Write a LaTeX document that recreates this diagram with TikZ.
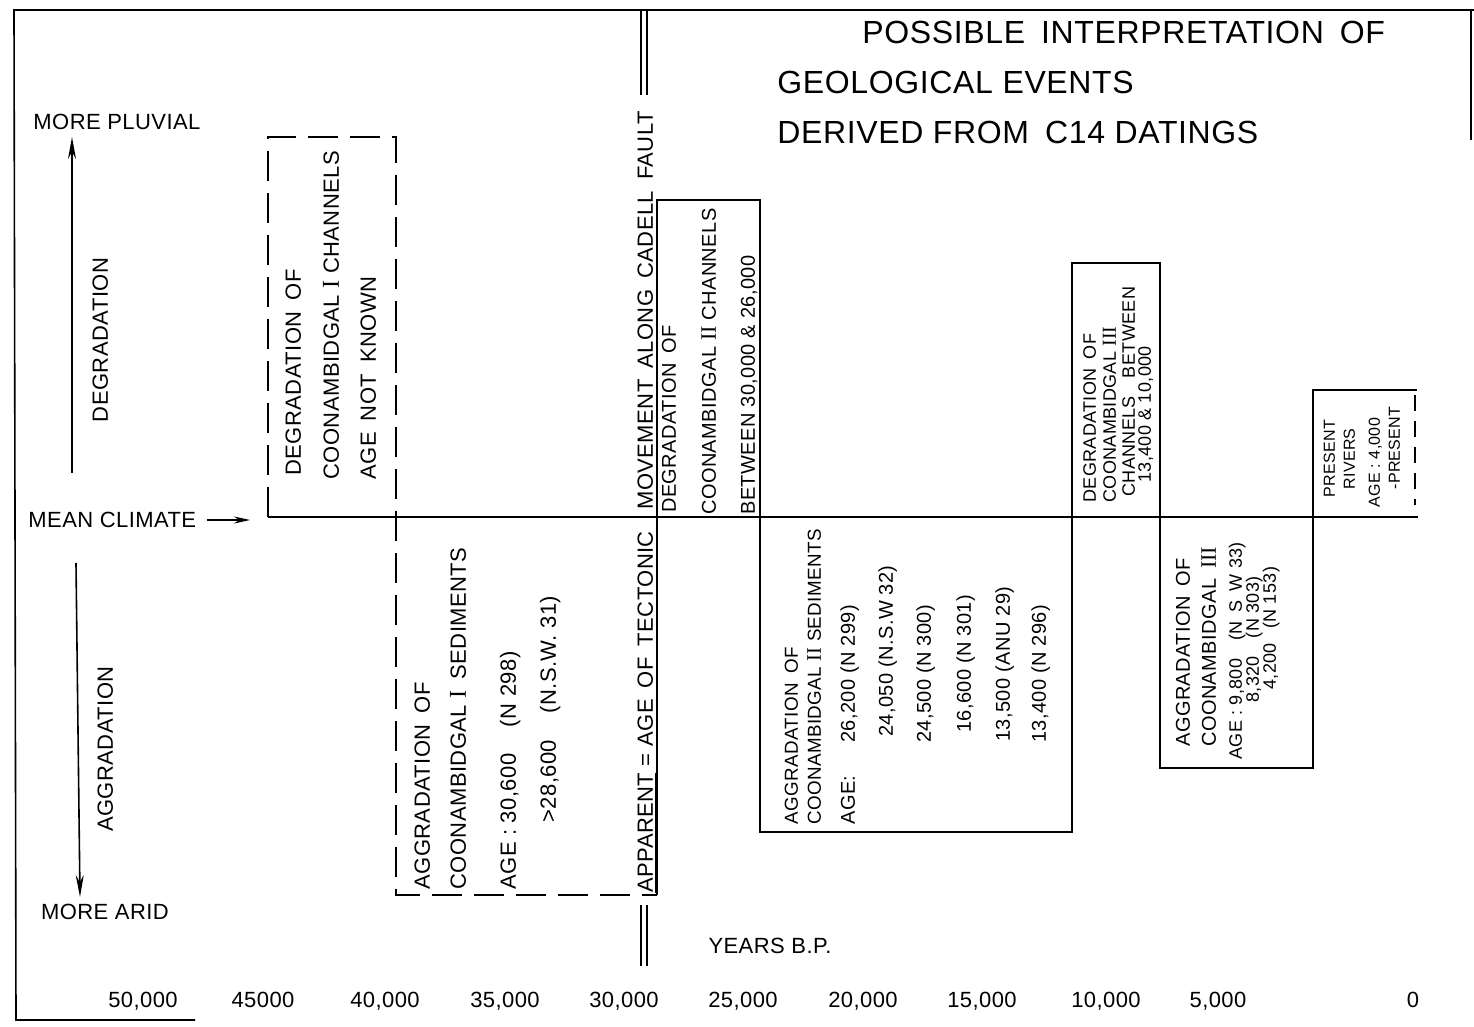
\documentclass[tikz,border=0pt]{standalone}
\usepackage{fontspec}
\setmainfont{Liberation Sans}[LetterSpace=2]
\newfontfamily\romfont{Liberation Serif}[Scale=1.1]
\usepackage{tikz}
\usetikzlibrary{arrows.meta}

\newcommand{\rnum}[1]{{\romfont #1}}
\newcommand{\gap}{\hspace{.5em}}

\tikzset{
  boxline/.style={line width=1pt},
  dashline/.style={line width=1pt,dash pattern=on 15pt off 6pt},
  axarrow/.style={line width=0.8pt,-{Stealth[length=11pt,width=4pt]}},
  vlbl/.style={rotate=90,anchor=west,inner sep=0pt,text height=1.5ex,text depth=0pt,
    font=\fontsize{11}{13}\selectfont},
  vmid/.style={vlbl,font=\fontsize{10}{12}\selectfont},
  vsmall/.style={vlbl,font=\fontsize{9}{10}\selectfont},
  vtiny/.style={vlbl,font=\fontsize{8}{9}\selectfont},
  hlbl/.style={inner sep=0pt,text height=1.5ex,text depth=0pt,
    font=\fontsize{11}{13}\selectfont},
  ttl/.style={anchor=west,inner sep=0pt,text height=1.5ex,text depth=0pt,
    font=\fontsize{16}{19}\selectfont}
}

\begin{document}
\begin{tikzpicture}[x=0.5pt,y=-0.5pt]
  \useasboundingbox (0,0) rectangle (1474,1027);
  % Frame
  \draw[line width=0.8pt] (1474,10) -- (14,10) -- (16,1020) -- (195,1020);
  \draw[line width=0.6pt] (1471,10) -- (1471,140);
  % Title
  \node[ttl] (title1) at (862,36) {POSSIBLE\gap INTERPRETATION\gap OF};
  \node[ttl] (title2) at (777,86) {GEOLOGICAL EVENTS};
  \node[ttl] (title3) at (777,136) {DERIVED FROM\gap C14 DATINGS};
  % Climate axis
  \node[hlbl] (pluvial) at (117,122) {MORE PLUVIAL};
  \coordinate (uptail) at (72,473);
  \coordinate (uphead) at (72,137);
  \draw[axarrow] (uptail) -- (uphead);
  \node[vlbl,anchor=center] (degr) at (100,340) {DEGRADATION};
  \node[hlbl,anchor=west] (mean) at (28,520) {MEAN CLIMATE};
  \coordinate (meanhead) at (250,520);
  \draw[line width=0.8pt,-{Stealth[length=8pt,width=3.5pt]}] ([xshift=5pt]mean.east) -- (meanhead);
  \node[vlbl,anchor=center] (aggr) at (105,749) {AGGRADATION};
  \coordinate (dntail) at (76,563);
  \coordinate (dnhead) at (80,897);
  \draw[axarrow] (dntail) -- (dnhead);
  \node[hlbl] (arid) at (105,912) {MORE ARID};
  % Mean climate line
  \draw[line width=1.3pt] (268,517) -- (1418,517);
  % Coonambidgal I boxes
  \draw[dashline] (268,517) -- (268,137) -- (396,137) -- (396,895) -- (657,895);
  % Solid boxes, stepped
  \draw[boxline] (657,895) -- (657,200) -- (760,200) -- (760,832) -- (1072,832)
    -- (1072,263) -- (1160,263) -- (1160,768) -- (1313,768) -- (1313,390) -- (1417,390);
  \draw[boxline,dash pattern=on 8pt off 5pt] (1415,395) -- (1415,505);
  % Cadell fault
  \foreach \fx in {641,647} {
    \draw[line width=0.8pt] (\fx,10) -- (\fx,95);
    \draw[line width=0.8pt] (\fx,905) -- (\fx,966);
  }
  \node[vlbl] (fault) at (645,510) {MOVEMENT\gap ALONG\gap CADELL\gap FAULT};
  \node[vlbl] (tecto) at (645,893) {\underline{APPARENT} = AGE\gap OF\gap TECTONIC};
  % Degradation of Coonambidgal I
  \node[vlbl] (deg1a) at (293,476) {DEGRADATION\gap OF};
  \node[vlbl] (deg1b) at (331,480) {COONAMBIDGAL \rnum{I} CHANNELS};
  \node[vlbl] (deg1c) at (368,480) {AGE\gap NOT\gap KNOWN};
  % Aggradation of Coonambidgal I
  \node[vlbl] (agg1a) at (422,890) {AGGRADATION\gap OF};
  \node[vlbl] (agg1b) at (458,890) {COONAMBIDGAL \rnum{I}\gap SEDIMENTS};
  \node[vlbl] (agg1c) at (508,890) {AGE : 30,600\hspace{1.2em}(N 298)};
  \node[vlbl] (agg1d) at (548,823) {>28,600\hspace{1.2em}(N.S.W. 31)};
  % Degradation of Coonambidgal II
  \node[vmid] (deg2a) at (668,513) {DEGRADATION\gap OF};
  \node[vmid] (deg2b) at (708,515) {COONAMBIDGAL \rnum{II} CHANNELS};
  \node[vmid] (deg2c) at (747,515) {BETWEEN 30,000 \& 26,000};
  % Aggradation of Coonambidgal II
  \node[vmid,font=\fontsize{9.4}{11}\selectfont] (agg2a) at (790,825) {AGGRADATION\gap OF};
  \node[vmid,font=\fontsize{9.4}{11}\selectfont] (agg2b) at (813,825) {COONAMBIDGAL \rnum{II} SEDIMENTS};
  \node[vmid] (agg2c) at (847,825) {AGE:};
  \foreach \dx/\dy/\dtxt [count=\i] in {847/743/{26,200 (N 299)}, 885/737/{24,050 (N.S.W 32)},
      923/743/{24,500 (N 300)}, 963/733/{16,600 (N 301)}, 1002/742/{13,500 (ANU 29)},
      1038/743/{13,400 (N 296)}}
    \node[vmid] (date2\i) at (\dx,\dy) {\dtxt};
  % Degradation of Coonambidgal III
  \node[vsmall] (deg3a) at (1088,503) {DEGRADATION\gap OF};
  \node[vsmall] (deg3b) at (1108,503) {COONAMBIDGAL \rnum{III}};
  \node[vsmall] (deg3c) at (1127,497) {CHANNELS\hspace{1em}BETWEEN};
  \node[vsmall] (deg3d) at (1143,483) {13,400 \& 10,000};
  % Aggradation of Coonambidgal III
  \node[vmid] (agg3a) at (1182,747) {AGGRADATION\gap OF};
  \node[vmid] (agg3b) at (1208,747) {COONAMBIDGAL\gap \rnum{III}};
  \node[vsmall] (agg3c) at (1234,760) {AGE : 9,800\hspace{1em}(N\gap S\gap W 33)};
  \node[vsmall] (agg3d) at (1251,703) {8,320\hspace{1em}(N 303)};
  \node[vsmall] (agg3e) at (1268,690) {4,200\hspace{.8em}(N 153)};
  % Present rivers
  \node[vtiny] (pres1) at (1327,498) {PRESENT};
  \node[vtiny] (pres2) at (1347,490) {RIVERS};
  \node[vtiny] (pres3) at (1372,508) {AGE : 4,000};
  \node[vtiny] (pres4) at (1392,490) {-PRESENT};
  % Time axis
  \node[hlbl] (yearsbp) at (770,946) {YEARS B.P.};
  \foreach \lx/\ltxt [count=\i] in {143/{50,000}, 263/45000, 385/{40,000}, 505/{35,000},
      624/{30,000}, 743/{25,000}, 863/{20,000}, 982/{15,000}, 1106/{10,000},
      1218/{5,000}, 1413/0}
    \node[hlbl] (yr\i) at (\lx,1000) {\ltxt};
\end{tikzpicture}
\end{document}
